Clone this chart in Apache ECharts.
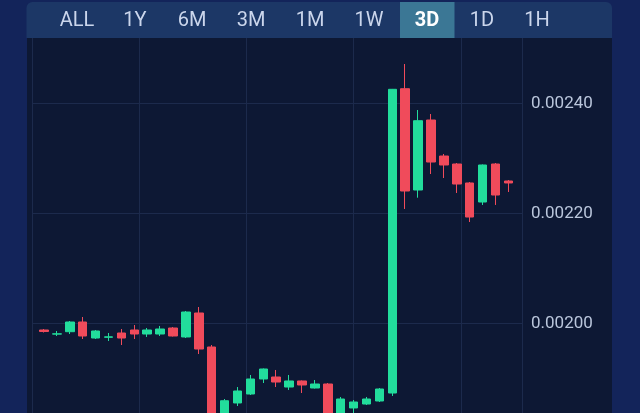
<!DOCTYPE html>
<html>
<head>
<meta charset="utf-8">
<script src="https://cdn.jsdelivr.net/npm/echarts@6/dist/echarts.min.js"></script>
<style>
html,body{margin:0;padding:0;background:#13245a;}
#chart{width:640px;height:413px;}
</style>
</head>
<body>
<div id="chart"></div>
<script>
var tabs = ['ALL','1Y','6M','3M','1M','1W','3D','1D','1H'];
var selectedTab = '3D';
var categories = [];
for (var k = 0; k < 37; k++) categories.push('c' + k);
var opens  = [0.0019882,0.0019807,0.0019851,0.0020027,0.0019736,0.0019750,0.0019827,0.0019882,0.0019809,0.0019809,0.0019918,0.0019755,0.0020191,0.0019573,0.0018180,0.0018555,0.0018718,0.0018991,0.0019027,0.0018845,0.0018955,0.0018827,0.0018900,0.0018282,0.0018464,0.0018536,0.0018591,0.0018736,0.0024269,0.0022427,0.0023700,0.0023045,0.0022900,0.0022555,0.0022209,0.0022900,0.0022591];
var closes = [0.0019855,0.0019812,0.0020027,0.0019773,0.0019864,0.0019757,0.0019736,0.0019809,0.0019882,0.0019900,0.0019773,0.0020209,0.0019536,0.0018180,0.0018596,0.0018773,0.0018991,0.0019173,0.0018936,0.0018955,0.0018882,0.0018900,0.0018282,0.0018627,0.0018573,0.0018627,0.0018809,0.0024258,0.0022409,0.0023687,0.0022936,0.0022882,0.0022536,0.0021936,0.0022882,0.0022336,0.0022555];
var lows   = [0.0019836,0.0019773,0.0019809,0.0019718,0.0019718,0.0019682,0.0019609,0.0019718,0.0019755,0.0019773,0.0019764,0.0019736,0.0019445,0.0018100,0.0018027,0.0018500,0.0018700,0.0018918,0.0018845,0.0018791,0.0018736,0.0018818,0.0018245,0.0018245,0.0018336,0.0018518,0.0018573,0.0018682,0.0022082,0.0022287,0.0022718,0.0022645,0.0022373,0.0021845,0.0022155,0.0022155,0.0022391];
var highs  = [0.0019900,0.0019864,0.0020045,0.0020118,0.0019882,0.0019827,0.0019900,0.0019973,0.0019918,0.0019955,0.0019936,0.0020227,0.0020300,0.0019609,0.0018627,0.0018845,0.0019064,0.0019182,0.0019155,0.0019064,0.0018964,0.0018973,0.0018918,0.0018664,0.0018609,0.0018664,0.0018827,0.0024264,0.0024718,0.0023882,0.0023809,0.0023082,0.0022918,0.0022573,0.0022891,0.0022918,0.0022609];

var candleData = categories.map(function (c, i) {
  return [opens[i], closes[i], lows[i], highs[i]];
});

var gridColor = '#1c2a4c';
var green = '#22dd9c';
var red = '#f04b5b';

var tabCenters = [77,135,192,251,310,369,427,482,537];
var graphics = [
  {type:'rect', z:-10, shape:{x:27,y:30,width:585,height:390}, style:{fill:'#0d1834'}},
  {type:'rect', z:99, shape:{x:0,y:0,width:640,height:2}, style:{fill:'#13245a'}},
  {type:'rect', z:100, shape:{x:26.5,y:2,width:585.5,height:36,r:[6,6,0,0]}, style:{fill:'#1c3766'}},
  {type:'rect', z:101, shape:{x:400,y:2,width:54.5,height:36}, style:{fill:'#3b7795'}}
];
tabs.forEach(function (t, i) {
  var sel = t === selectedTab;
  graphics.push({
    type:'text', z:102,
    style:{
      text:t, x:tabCenters[i], y:21,
      textAlign:'center', textVerticalAlign:'middle',
      fill: sel ? '#ffffff' : '#cbd6ec',
      font: (sel ? 'bold ' : '') + '20px Roboto'
    }
  });
});

var chart = echarts.init(document.getElementById('chart'), null, {renderer:'canvas'});
chart.setOption({
  backgroundColor:'#13245a',
  animation:false,
  graphic:graphics,
  grid:[
    {left:32, right:118, top:-6.5, bottom:-130.5, outerBoundsMode:'none', containLabel:false},
    {left:37.55, right:125.15, top:-6.5, bottom:-130.5, outerBoundsMode:'none', containLabel:false}
  ],
  xAxis:[
    {type:'value', gridIndex:0, min:0, max:4.571, interval:1,
     axisLine:{show:false}, axisTick:{show:false}, axisLabel:{show:false},
     splitLine:{show:true, lineStyle:{color:gridColor, width:1}}},
    {type:'category', gridIndex:1, data:categories, boundaryGap:true,
     axisLine:{show:false}, axisTick:{show:false}, axisLabel:{show:false}, splitLine:{show:false}}
  ],
  yAxis:[
    {type:'value', gridIndex:0, position:'right', min:0.0016, max:0.0026, interval:0.0002,
     axisLine:{show:true, lineStyle:{color:gridColor, width:1}},
     axisTick:{show:false},
     axisLabel:{show:true, margin:9, color:'#bac6dc', fontSize:17, fontFamily:'Roboto',
       padding:[4,0,0,0],
       formatter:function(v){return v.toFixed(5);}},
     splitLine:{show:true, lineStyle:{color:gridColor, width:1}}},
    {type:'value', gridIndex:1, min:0.0016, max:0.0026, interval:0.0002, show:false,
     splitLine:{show:false}}
  ],
  series:[{
    type:'candlestick',
    xAxisIndex:1, yAxisIndex:1,
    data:candleData,
    barWidth:9,
    itemStyle:{color:green, color0:red, borderColor:green, borderColor0:red, borderWidth:1}
  }]
});
</script>
</body>
</html>
